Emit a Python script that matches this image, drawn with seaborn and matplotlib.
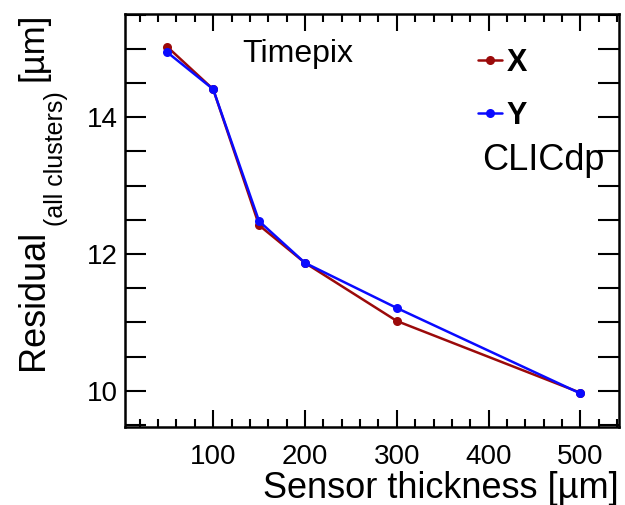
import numpy as np
import pandas as pd
import matplotlib
matplotlib.use("Agg")
import matplotlib.pyplot as plt
import seaborn as sns
from matplotlib.ticker import MultipleLocator

thickness = [50, 100, 150, 200, 300, 500]
res_x = [15.03, 14.41, 12.42, 11.87, 11.02, 9.97]
res_y = [14.95, 14.41, 12.48, 11.87, 11.21, 9.96]
series_names = ["X", "Y"]
colors = ["#9b0a0a", "#0a0aff"]

df = pd.DataFrame({
    "thickness": thickness * 2,
    "residual": res_x + res_y,
    "coord": [series_names[0]] * len(thickness) + [series_names[1]] * len(thickness),
})

sns.set_style("white")
plt.rcParams["font.family"] = ["Liberation Sans", "DejaVu Sans"]
plt.rcParams["text.color"] = "black"
plt.rcParams["axes.labelcolor"] = "black"

W, H = 625, 505
fig = plt.figure(figsize=(6.25, 5.05), dpi=100)
ax = fig.add_axes([0.200, 0.1545, 0.7904, 0.8178])

sns.lineplot(data=df, x="thickness", y="residual", hue="coord",
             palette=dict(zip(series_names, colors)), marker="o",
             markersize=6.5, markeredgewidth=0, linewidth=1.8, ax=ax)

ax.set_xlim(4, 542)
ax.set_ylim(9.47, 15.51)
ax.xaxis.set_major_locator(MultipleLocator(100))
ax.xaxis.set_minor_locator(MultipleLocator(20))
ax.yaxis.set_major_locator(MultipleLocator(2))
ax.yaxis.set_minor_locator(MultipleLocator(0.5))
ax.tick_params(axis="both", which="both", direction="in", top=True, right=True,
               bottom=True, left=True, width=1.5, labelsize=20, colors="black")
ax.tick_params(axis="x", which="major", length=12, pad=12)
ax.tick_params(axis="x", which="minor", length=6)
ax.tick_params(axis="y", which="major", length=15, pad=5)
ax.tick_params(axis="y", which="minor", length=15)
for s in ax.spines.values():
    s.set_linewidth(1.8)
    s.set_color("black")

ax.set_xlabel("Sensor thickness [µm]", fontsize=26, loc="right", labelpad=1)
ax.set_ylabel("")

# y-axis title in pieces: main text, lowered subscript, unit
fig.text(33 / W, 1 - 370 / H, "Residual", rotation=90, fontsize=26,
         ha="center", va="bottom")
fig.text(56 / W, 1 - 226 / H, "(all clusters)", rotation=90, fontsize=18,
         ha="center", va="bottom")
fig.text(33 / W, 1 - 81 / H, "[µm]", rotation=90, fontsize=25,
         ha="center", va="bottom")

ax.text(0.238, 0.903, "Timepix", transform=ax.transAxes, fontsize=23,
        ha="left", va="center")
ax.text(0.723, 0.646, "CLICdp", transform=ax.transAxes, fontsize=26,
        ha="left", va="center")

leg = ax.legend(loc="upper right", bbox_to_anchor=(0.87, 0.985), frameon=False,
                handlelength=0.8, handletextpad=0.15,
                labelspacing=0.75, prop={"weight": "bold", "size": 22})
ax.grid(False)

fig.savefig("out.png", dpi=100)
